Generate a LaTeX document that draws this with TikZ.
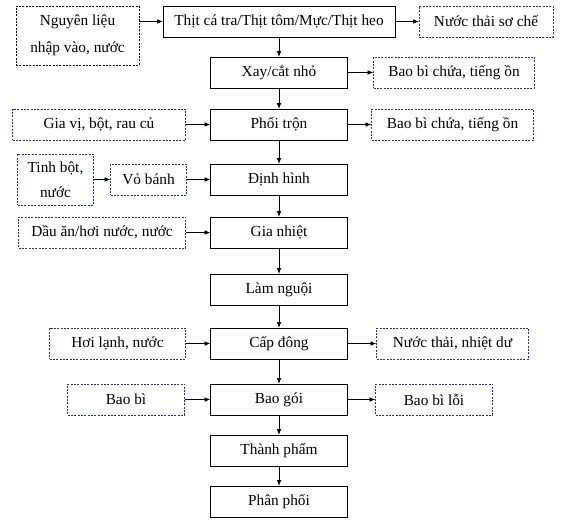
\documentclass[tikz,border=0pt]{standalone}
\usepackage{fontspec}
\setmainfont{Liberation Serif}
\usepackage{tikz}
\usetikzlibrary{arrows.meta, positioning}
\definecolor{boxnavy}{RGB}{31,56,100}

\begin{document}
\begin{tikzpicture}[
		font=\fontsize{11.5pt}{14pt}\selectfont,
		stage/.style={draw=black, line width=0.75pt, minimum width=102.75pt, minimum height=23.25pt, inner sep=1pt, outer sep=0pt, align=center},
		feed/.style={draw=boxnavy, line width=0.6pt, dash pattern=on 1.5pt off 1pt, minimum height=23.25pt, inner sep=1pt, outer sep=0pt, align=center},
		arrowstyle/.style={-{Latex[length=4.5pt, width=3.5pt]}, line width=0.6pt, black}
	]
	\useasboundingbox (0,0) rectangle (422.25pt,-390.75pt);
	% main process line
	\node[stage, minimum width=174pt] (thit) at (209.25pt,-16.125pt) {Thịt cá tra/Thịt tôm/Mực/Thịt heo};
	\node[stage, below=15pt of thit] (xay) {Xay/cắt nhỏ};
	\node[stage, below=15.75pt of xay] (phoitron) {Phối trộn};
	\node[stage, below=18pt of phoitron] (dinhhinh) {Định hình};
	\node[stage, below=16.5pt of dinhhinh] (gianhiet) {Gia nhiệt};
	\node[stage, below=19.5pt of gianhiet] (lamnguoi) {Làm nguội};
	\node[stage, below=17.25pt of lamnguoi] (capdong) {Cấp đông};
	\node[stage, below=18.75pt of capdong] (baogoi) {Bao gói};
	\node[stage, below=15pt of baogoi] (thanhpham) {Thành phẩm};
	\node[stage, below=15pt of thanhpham] (phanphoi) {Phân phối};
	% inputs
	\node[feed, draw=black, minimum width=92.25pt, minimum height=44.25pt, left=18pt of thit.north west, anchor=north east] (nguyenlieu) {Nguyên liệu\\[6pt]nhập vào, nước};
	\node[feed, minimum width=129.75pt, left=18.75pt of phoitron] (giavi) {Gia vị, bột, rau củ};
	\node[feed, minimum width=57pt, left=18pt of dinhhinh] (vobanh) {Vỏ bánh};
	\node[feed, minimum width=57pt, minimum height=38.25pt, left=12.75pt of vobanh] (tinhbot) {Tinh bột,\\[5pt]nước};
	\node[feed, minimum width=125.25pt, left=18.75pt of gianhiet] (dauan) {Dầu ăn/hơi nước, nước};
	\node[feed, minimum width=102pt, left=18.75pt of capdong] (hoilanh) {Hơi lạnh, nước};
	\node[feed, minimum width=87.75pt, left=19.5pt of baogoi] (baobi) {Bao bì};
	% outputs
	\node[feed, minimum width=100.5pt, right=18pt of thit] (nuocthai) {Nước thải sơ chế};
	\node[feed, minimum width=120.75pt, right=19.5pt of xay] (chatthai1) {Bao bì chứa, tiếng ồn};
	\node[feed, minimum width=121.5pt, right=18pt of phoitron] (chatthai2) {Bao bì chứa, tiếng ồn};
	\node[feed, minimum width=114pt, right=21.75pt of capdong] (nhietdu) {Nước thải, nhiệt dư};
	\node[feed, minimum width=87.75pt, right=21pt of baogoi] (baobiloi) {Bao bì lỗi};
	% flow
	\draw[arrowstyle] (thit) -- (xay);
	\draw[arrowstyle] (xay) -- (phoitron);
	\draw[arrowstyle] (phoitron) -- (dinhhinh);
	\draw[arrowstyle] (dinhhinh) -- (gianhiet);
	\draw[arrowstyle] (gianhiet) -- (lamnguoi);
	\draw[arrowstyle] (lamnguoi) -- (capdong);
	\draw[arrowstyle] (capdong) -- (baogoi);
	\draw[arrowstyle] (baogoi) -- (thanhpham);
	\draw[arrowstyle] (thanhpham) -- (phanphoi);
	\draw[arrowstyle] (nguyenlieu.east |- thit) -- (thit);
	\draw[arrowstyle] (giavi) -- (phoitron);
	\draw[arrowstyle] (tinhbot) -- (vobanh);
	\draw[arrowstyle] (vobanh) -- (dinhhinh);
	\draw[arrowstyle] (dauan) -- (gianhiet);
	\draw[arrowstyle] (hoilanh) -- (capdong);
	\draw[arrowstyle] (baobi) -- (baogoi);
	\draw[arrowstyle] (thit) -- (nuocthai);
	\draw[arrowstyle] (xay) -- (chatthai1);
	\draw[arrowstyle] (phoitron) -- (chatthai2);
	\draw[arrowstyle] (capdong) -- (nhietdu);
	\draw[arrowstyle] (baogoi) -- (baobiloi);
\end{tikzpicture}
\end{document}
